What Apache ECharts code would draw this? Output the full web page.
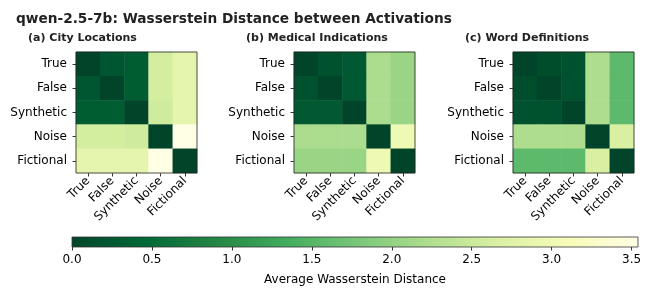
<!DOCTYPE html>
<html>
<head>
<meta charset="utf-8">
<script src="https://cdn.jsdelivr.net/npm/echarts@6/dist/echarts.min.js"></script>
<style>
html,body{margin:0;padding:0;background:#fff;}
#chart{width:650px;height:296px;}
</style>
</head>
<body>
<div id="chart"></div>
<script>
const categories = ['True', 'False', 'Synthetic', 'Noise', 'Fictional'];
const panelTitles = ['(a) City Locations', '(b) Medical Indications', '(c) Word Definitions'];
// symmetric distance matrices (rows/cols follow categories)
const cityLocations = [
  [0.00, 0.22, 0.30, 2.60, 2.85],
  [0.22, 0.00, 0.30, 2.60, 2.85],
  [0.30, 0.30, 0.00, 2.55, 2.85],
  [2.60, 2.60, 2.55, 0.00, 3.54],
  [2.85, 2.85, 2.85, 3.54, 0.00]
];
const medicalIndications = [
  [0.00, 0.15, 0.25, 2.20, 2.05],
  [0.15, 0.00, 0.25, 2.20, 2.05],
  [0.25, 0.25, 0.00, 2.20, 2.05],
  [2.20, 2.20, 2.20, 0.00, 2.97],
  [2.05, 2.05, 2.05, 2.97, 0.00]
];
const wordDefinitions = [
  [0.00, 0.10, 0.15, 2.22, 1.55],
  [0.10, 0.00, 0.15, 2.22, 1.55],
  [0.15, 0.15, 0.00, 2.22, 1.55],
  [2.22, 2.22, 2.22, 0.00, 2.65],
  [1.55, 1.55, 1.55, 2.65, 0.00]
];
const colorbarTicks = [0.0, 0.5, 1.0, 1.5, 2.0, 2.5, 3.0, 3.5];
const vmin = 0, vmax = 3.54;
const colorbarLabel = 'Average Wasserstein Distance';
const mainTitle = 'qwen-2.5-7b: Wasserstein Distance between Activations';
// YlGn reversed
const ylgnR = ['#004529', '#006837', '#238443', '#41ab5d', '#78c679', '#addd8e', '#d9f0a3', '#f7fcb9', '#ffffe5'];

const matrices = [cityLocations, medicalIndications, wordDefinitions];
const gridLefts = [76, 294, 513];
const FONT = 'DejaVu Sans';
const LBL = 12;

const grids = [], xAxes = [], yAxes = [], series = [], titles = [];
titles.push({text: mainTitle, left: 11, top: 7, textStyle: {fontFamily: FONT, fontSize: 13.7, fontWeight: 'bold', color: '#222'}});
matrices.forEach((m, i) => {
  grids.push({left: gridLefts[i], top: 52, width: 121, height: 121, show: true, borderColor: '#222', borderWidth: 0.8, backgroundColor: 'transparent', z: 10});
  titles.push({text: panelTitles[i], left: gridLefts[i] - 53, top: 28, textStyle: {fontFamily: FONT, fontSize: 11, fontWeight: 'bold', color: '#222'}});
  xAxes.push({type: 'category', gridIndex: i, data: categories,
    axisLine: {show: false}, axisTick: {show: true, alignWithLabel: true, length: 3.5, lineStyle: {color: '#000', width: 0.8}},
    axisLabel: {rotate: 45, margin: 6, fontFamily: FONT, fontSize: LBL, color: '#000', interval: 0}, splitLine: {show: false}});
  yAxes.push({type: 'category', gridIndex: i, data: categories, inverse: true,
    axisLine: {show: false}, axisTick: {show: true, alignWithLabel: true, length: 3.5, lineStyle: {color: '#000', width: 0.8}},
    axisLabel: {margin: 9, fontFamily: FONT, fontSize: LBL, color: '#000', interval: 0}, splitLine: {show: false}});
  const data = [];
  m.forEach((row, r) => row.forEach((v, c) => data.push([c, r, v])));
  series.push({type: 'heatmap', xAxisIndex: i, yAxisIndex: i, data: data, itemStyle: {borderWidth: 0}, emphasis: {disabled: true}, progressive: 0});
});

// colorbar
const cbIdx = 3;
grids.push({left: 72, top: 237, width: 566, height: 10, show: true, borderColor: '#333', borderWidth: 0.8, backgroundColor: 'transparent', z: 10});
xAxes.push({type: 'value', gridIndex: cbIdx, min: vmin, max: vmax, interval: 0.5,
  axisLine: {show: false}, splitLine: {show: false},
  axisTick: {show: true, length: 3.5, lineStyle: {color: '#000', width: 0.8}},
  axisLabel: {showMaxLabel: false, margin: 7, fontFamily: FONT, fontSize: LBL, color: '#000',
    formatter: v => colorbarTicks.some(t => Math.abs(t - v) < 1e-6) ? v.toFixed(1) : ''},
  name: colorbarLabel, nameLocation: 'middle', nameGap: 27, nameTextStyle: {fontFamily: FONT, fontSize: LBL, color: '#000'}});
yAxes.push({type: 'category', gridIndex: cbIdx, data: ['cb'], show: false});
series.push({type: 'bar', xAxisIndex: cbIdx, yAxisIndex: cbIdx, data: [vmax], barWidth: '100%', silent: true,
  itemStyle: {color: new echarts.graphic.LinearGradient(0, 0, 1, 0, ylgnR.map((c, k) => ({offset: k / (ylgnR.length - 1), color: c})))}});

const chart = echarts.init(document.getElementById('chart'), null, {renderer: 'canvas'});
chart.setOption({
  animation: false,
  backgroundColor: '#fff',
  title: titles,
  grid: grids,
  xAxis: xAxes,
  yAxis: yAxes,
  visualMap: {show: false, type: 'continuous', min: vmin, max: vmax, seriesIndex: [0, 1, 2], inRange: {color: ylgnR}},
  series: series
});
</script>
</body>
</html>
